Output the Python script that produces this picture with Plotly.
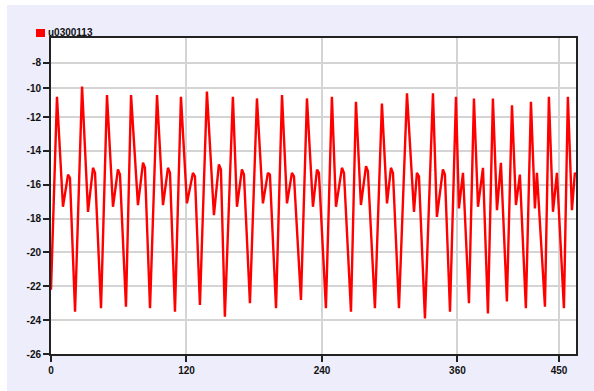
import plotly.graph_objects as go

series_name = "u0300113"

x_vals = [0, 5.3, 10.6, 15.1, 16.8, 21.3, 27.5, 32.8, 37.2, 39.0, 44.3, 49.6, 54.9, 59.3, 61.1, 66.4,
          70.9, 77.0, 81.5, 83.2, 87.7, 93.9, 99.2, 103.6, 105.4, 109.8, 115.1, 120.4, 125.7, 127.5,
          131.9, 138.1, 144.3, 148.7, 150.5, 154.0, 161.1, 164.7, 169.1, 170.9, 176.2, 182.4, 187.7,
          192.1, 193.9, 199.3, 204.6, 209.0, 213.4, 215.2, 221.4, 226.7, 232.0, 235.6, 237.3, 243.5,
          248.8, 252.4, 257.7, 259.5, 265.7, 270.1, 274.5, 279.0, 280.7, 286.9, 293.1, 297.6, 301.1,
          302.9, 308.2, 315.3, 321.5, 324.1, 325.9, 331.2, 338.3, 341.8, 347.1, 348.9, 353.4, 358.7,
          361.3, 364.9, 370.2, 374.6, 378.2, 382.6, 387.0, 391.4, 395.0, 398.5, 403.8, 408.3, 411.8,
          415.3, 420.6, 425.1, 428.6, 430.4, 437.5, 441.0, 444.6, 448.1, 454.3, 457.8, 461.4, 464.0,
          464.9]

y_vals = [-22.2, -10.8, -17.3, -15.4, -15.6, -23.5, -10.2, -17.6, -15.0, -15.3, -23.3, -10.7, -17.3,
          -15.1, -15.4, -23.2, -10.7, -17.2, -14.7, -15.0, -23.3, -10.7, -17.2, -15.0, -15.3, -23.5,
          -10.8, -17.1, -15.3, -15.5, -23.1, -10.5, -17.8, -14.8, -15.1, -23.8, -10.8, -17.3, -15.1,
          -15.4, -23.0, -10.9, -17.1, -15.3, -15.4, -23.3, -10.7, -17.1, -15.3, -15.5, -22.8, -10.9,
          -17.3, -15.1, -15.3, -23.3, -10.8, -17.3, -15.0, -15.3, -23.5, -11.1, -17.2, -14.9, -15.2,
          -23.3, -11.2, -17.1, -15.0, -15.3, -23.3, -10.6, -17.6, -15.3, -15.5, -23.9, -10.6, -17.9,
          -15.1, -15.4, -23.5, -10.8, -17.4, -15.3, -23.0, -10.9, -17.3, -15.0, -23.6, -10.9, -17.5,
          -14.7, -22.9, -11.3, -17.2, -15.4, -23.3, -11.1, -17.4, -15.3, -23.2, -10.8, -17.6, -15.3,
          -23.3, -10.8, -17.5, -15.3, -15.4]

x_tick_vals = [0, 120, 240, 360, 450]
x_tick_text = ["0", "120", "240", "360", "450"]
y_tick_vals = [-26, -24, -22, -20, -18, -16, -14, -12, -10.3, -8.8]
y_tick_text = ["-26", "-24", "-22", "-20", "-18", "-16", "-14", "-12", "-10", "-8"]

font = dict(family="Liberation Sans, Arial, sans-serif", size=10, color="#111111", weight="bold")

fig = go.Figure()
fig.add_trace(go.Scatter(x=x_vals, y=y_vals, mode="lines", name=series_name,
                         line=dict(color="#FF0000", width=2.4), showlegend=False))

axis_common = dict(showline=True, linecolor="#222222", linewidth=2, mirror=True,
                   showgrid=True, gridcolor="#D4D4D4", gridwidth=1.5,
                   ticks="outside", ticklen=6, tickwidth=1.5, tickcolor="#222222",
                   zeroline=False, tickfont=font)

fig.update_xaxes(range=[0, 465], tickvals=x_tick_vals, ticktext=x_tick_text, **axis_common)
fig.update_yaxes(range=[-26, -7.33], tickvals=y_tick_vals, ticktext=y_tick_text, **axis_common)

# legend marker + label
fig.add_shape(type="rect", xref="paper", yref="paper", xsizemode="pixel", ysizemode="pixel",
              xanchor=0, yanchor=1, x0=-15, x1=-6, y0=1, y1=9,
              fillcolor="#FF0000", line=dict(width=0), layer="above")
fig.add_annotation(text=series_name, xref="paper", yref="paper", x=-0.0095, y=1,
                   xanchor="left", yanchor="bottom", showarrow=False, font=font, yshift=-2)

fig.update_layout(width=587, height=386, margin=dict(l=44, r=18, t=33, b=37),
                  paper_bgcolor="#EDEDFB", plot_bgcolor="#FFFFFF", showlegend=False)

fig.write_html("out.html",
               post_script="document.body.style.margin='5px 0 0 7px';document.body.style.overflow='hidden';")
